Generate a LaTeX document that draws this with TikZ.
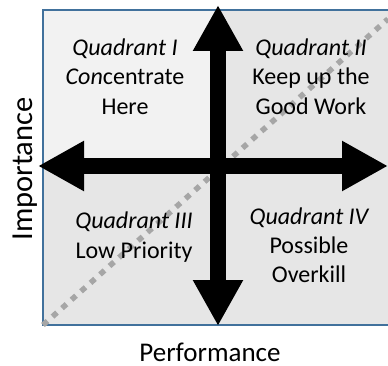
\documentclass[tikz,border=0pt]{standalone}
\usepackage{fontspec}
\setmainfont{Carlito}
\usetikzlibrary{arrows.meta}
\definecolor{qlight}{HTML}{F2F2F2}
\definecolor{qdark}{HTML}{E6E6E6}
\definecolor{frameblue}{HTML}{41719C}
\definecolor{dotgray}{HTML}{A6A6A6}
\tikzset{
  qtext/.style={anchor=base, inner sep=0pt, font=\fontsize{24}{29}\selectfont},
  axlabel/.style={anchor=base, inner sep=0pt, font=\fontsize{27}{32}\selectfont},
  bigarrow/.style={line width=16pt, {Triangle[width=47pt,length=46pt]}-{Triangle[width=47pt,length=46pt]}},
  diag/.style={dotgray, line width=5.5pt, dash pattern=on 6pt off 6.7pt},
}
\begin{document}
\begin{tikzpicture}[x=1pt,y=-1pt]
\useasboundingbox (0,0) rectangle (388,366);
% quadrants
\fill[qlight] (43,10) rectangle (218,166);
\fill[qdark] (218,10) rectangle (392,166);
\fill[qdark] (43,166) rectangle (392,325);
% frame
\draw[frameblue, line width=2pt] (392,10) -- (43,10) -- (43,325) -- (392,325);
% coordinates
\coordinate (bl) at (43,325);
\coordinate (tr) at (388,19);
\coordinate (top) at (218,5);
\coordinate (bot) at (218,326);
\coordinate (lft) at (38,166);
\coordinate (rgt) at (388,166);
% diagonal
\draw[diag] (bl) -- (tr);
% arrows
\draw[bigarrow] (lft) -- (rgt);
\draw[bigarrow] (top) -- (bot);
% texts
\node[qtext] (q1a) at (125,56) {\itshape Quadrant I};
\node[qtext] (q1b) at (125,85) {\textit{Con}centrate};
\node[qtext] (q1c) at (125,115) {Here};
\node[qtext] (q2a) at (311,56) {\itshape Quadrant II};
\node[qtext] (q2b) at (311,85) {Keep up the};
\node[qtext] (q2c) at (311,115) {Good Work};
\node[qtext] (q3a) at (134,229) {\itshape Quadrant III};
\node[qtext] (q3b) at (134,258) {Low Priority};
\node[qtext] (q4a) at (309,224) {\itshape Quadrant IV};
\node[qtext] (q4b) at (309,253) {Possible};
\node[qtext] (q4c) at (309,282) {Overkill};
\node[axlabel] (perf) at (210,361.5) {Performance};
\node[axlabel, rotate=90, font=\fontsize{30.5}{36}\selectfont] (imp) at (32,169) {Importance};
\end{tikzpicture}
\end{document}
